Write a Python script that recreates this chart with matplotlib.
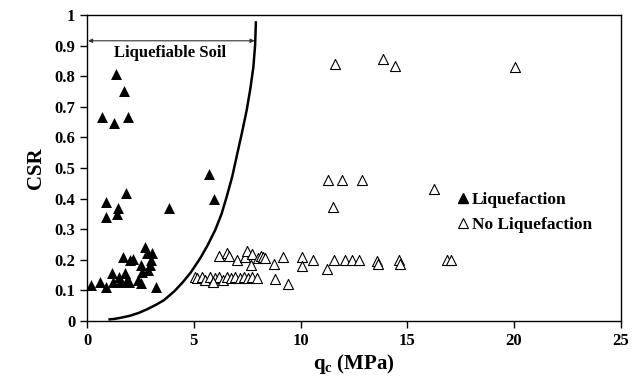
#!/usr/bin/env python3
"""CSR vs cone tip resistance qc — liquefaction case records with boundary curve."""

import matplotlib
matplotlib.use("Agg")
import matplotlib.pyplot as plt
from matplotlib.lines import Line2D

plt.rcParams["font.family"] = ["Liberation Serif", "DejaVu Serif"]
plt.rcParams["font.weight"] = "bold"
plt.rcParams["mathtext.fontset"] = "custom"
plt.rcParams["mathtext.rm"] = "Liberation Serif:bold"
plt.rcParams["mathtext.it"] = "Liberation Serif:bold"
plt.rcParams["mathtext.bf"] = "Liberation Serif:bold"

# ---------------------------------------------------------------------------
# Data
# ---------------------------------------------------------------------------

# Liquefaction cases (filled triangles)
liq_qc = [1.34, 1.75, 0.69, 1.25, 1.93,
          1.83, 0.87, 1.44, 0.90, 1.39, 3.84, 5.73, 5.95,
          0.17, 0.61, 0.89, 1.16, 1.23, 1.51, 1.67, 1.86, 2.01, 2.17,
          1.98, 2.53, 2.56, 2.72, 2.79, 2.95, 3.03, 2.98, 2.51, 3.23,
          1.78, 2.40, 2.87, 1.54]
liq_csr = [0.807, 0.753, 0.668, 0.646, 0.668,
           0.420, 0.390, 0.370, 0.339, 0.350, 0.370, 0.480, 0.400,
           0.118, 0.128, 0.112, 0.158, 0.128, 0.145, 0.208, 0.134, 0.199, 0.202,
           0.128, 0.183, 0.161, 0.241, 0.221, 0.183, 0.221, 0.199, 0.123, 0.110,
           0.157, 0.134, 0.167, 0.128]

# No-liquefaction cases (open triangles)
noliq_qc = [6.19, 6.57, 6.66, 7.01, 7.40, 7.51, 7.71, 8.02, 8.13, 8.26, 8.33,
            8.75, 9.16, 10.05, 10.57, 11.56, 12.08, 12.39, 12.75,
            5.06, 5.17, 5.37, 5.52, 5.76, 5.99, 6.19, 6.38, 6.57, 6.73, 6.93,
            7.16, 7.35, 7.55, 7.71, 7.94,
            7.66, 10.05, 11.22, 8.80, 9.43, 5.88,
            13.60, 13.64, 14.62, 14.65, 16.84, 17.07,
            11.61, 13.87, 14.43, 20.04,
            11.30, 11.92, 12.86, 16.24, 11.53]
noliq_csr = [0.212, 0.221, 0.212, 0.199, 0.210, 0.230, 0.220, 0.205, 0.212, 0.210, 0.205,
             0.187, 0.210, 0.210, 0.200, 0.199, 0.199, 0.199, 0.199,
             0.145, 0.139, 0.145, 0.134, 0.145, 0.139, 0.145, 0.134, 0.145, 0.139, 0.145,
             0.139, 0.145, 0.139, 0.145, 0.139,
             0.183, 0.180, 0.169, 0.136, 0.121, 0.128,
             0.197, 0.188, 0.199, 0.188, 0.199, 0.199,
             0.840, 0.858, 0.833, 0.829,
             0.461, 0.461, 0.461, 0.431, 0.372]

# Boundary curve
curve_qc = [1.0, 1.3, 1.6, 2.0, 2.4, 2.8, 3.2, 3.6, 4.1, 4.5, 4.85, 5.3, 5.65,
            6.0, 6.3, 6.54, 6.8, 7.04, 7.27, 7.48, 7.65, 7.79, 7.87, 7.91]
curve_csr = [0.005, 0.007, 0.011, 0.017, 0.026, 0.038, 0.052, 0.068, 0.098, 0.128,
             0.158, 0.205, 0.248, 0.297, 0.350, 0.406, 0.472, 0.548, 0.620, 0.690,
             0.760, 0.830, 0.900, 0.980]

x_ticks = [0, 5, 10, 15, 20, 25]
y_ticks = [0, 0.1, 0.2, 0.3, 0.4, 0.5, 0.6, 0.7, 0.8, 0.9, 1]
y_tick_labels = ["0", "0.1", "0.2", "0.3", "0.4", "0.5", "0.6", "0.7", "0.8", "0.9", "1"]

# ---------------------------------------------------------------------------
# Figure
# ---------------------------------------------------------------------------

fig = plt.figure(figsize=(6.4, 3.87), dpi=100)
ax = fig.add_axes([0.136, 0.1705, 0.834, 0.7905])

ax.plot(curve_qc, curve_csr, color="black", lw=1.8, solid_capstyle="butt", zorder=2)

ax.scatter(liq_qc, liq_csr, marker="^", s=62, color="black", lw=0, zorder=3)
ax.scatter(noliq_qc, noliq_csr, marker="^", s=52, facecolor="white",
           edgecolor="black", lw=0.8, zorder=3)

# Liquefiable soil range
ax.annotate("", xy=(0.05, 0.916), xytext=(7.85, 0.916),
            arrowprops=dict(arrowstyle="<|-|>", color="#333333", lw=0.8,
                            mutation_scale=6, shrinkA=0, shrinkB=0))
ax.text(3.9, 0.875, "Liquefiable Soil", ha="center", va="center",
        fontsize=12, fontweight="bold")

ax.set_xlim(0, 25)
ax.set_ylim(0, 1)
ax.set_xticks(x_ticks)
ax.set_yticks(y_ticks)
ax.set_yticklabels(y_tick_labels)
ax.tick_params(direction="out", length=5, width=1, labelsize=12)
for lab in ax.get_xticklabels() + ax.get_yticklabels():
    lab.set_fontweight("bold")
for sp in ax.spines.values():
    sp.set_linewidth(1.0)

ax.set_xlabel(r"$q_c$ (MPa)", fontsize=15, fontweight="bold", labelpad=2)
ax.set_ylabel("CSR", fontsize=15, fontweight="bold", labelpad=6)

handles = [
    Line2D([], [], marker="^", ls="none", color="black", markersize=7),
    Line2D([], [], marker="^", ls="none", markerfacecolor="white",
           markeredgecolor="black", markeredgewidth=0.8, markersize=7),
]
ax.legend(handles, ["Liquefaction", "No Liquefaction"], loc="upper left",
          bbox_to_anchor=(0.675, 0.45), frameon=False, handlelength=0.8,
          handletextpad=0.1, borderpad=0, labelspacing=0.5,
          prop={"family": "Liberation Serif", "weight": "bold", "size": 12.5})

fig.savefig("out.png", dpi=100)
plt.close("all")
